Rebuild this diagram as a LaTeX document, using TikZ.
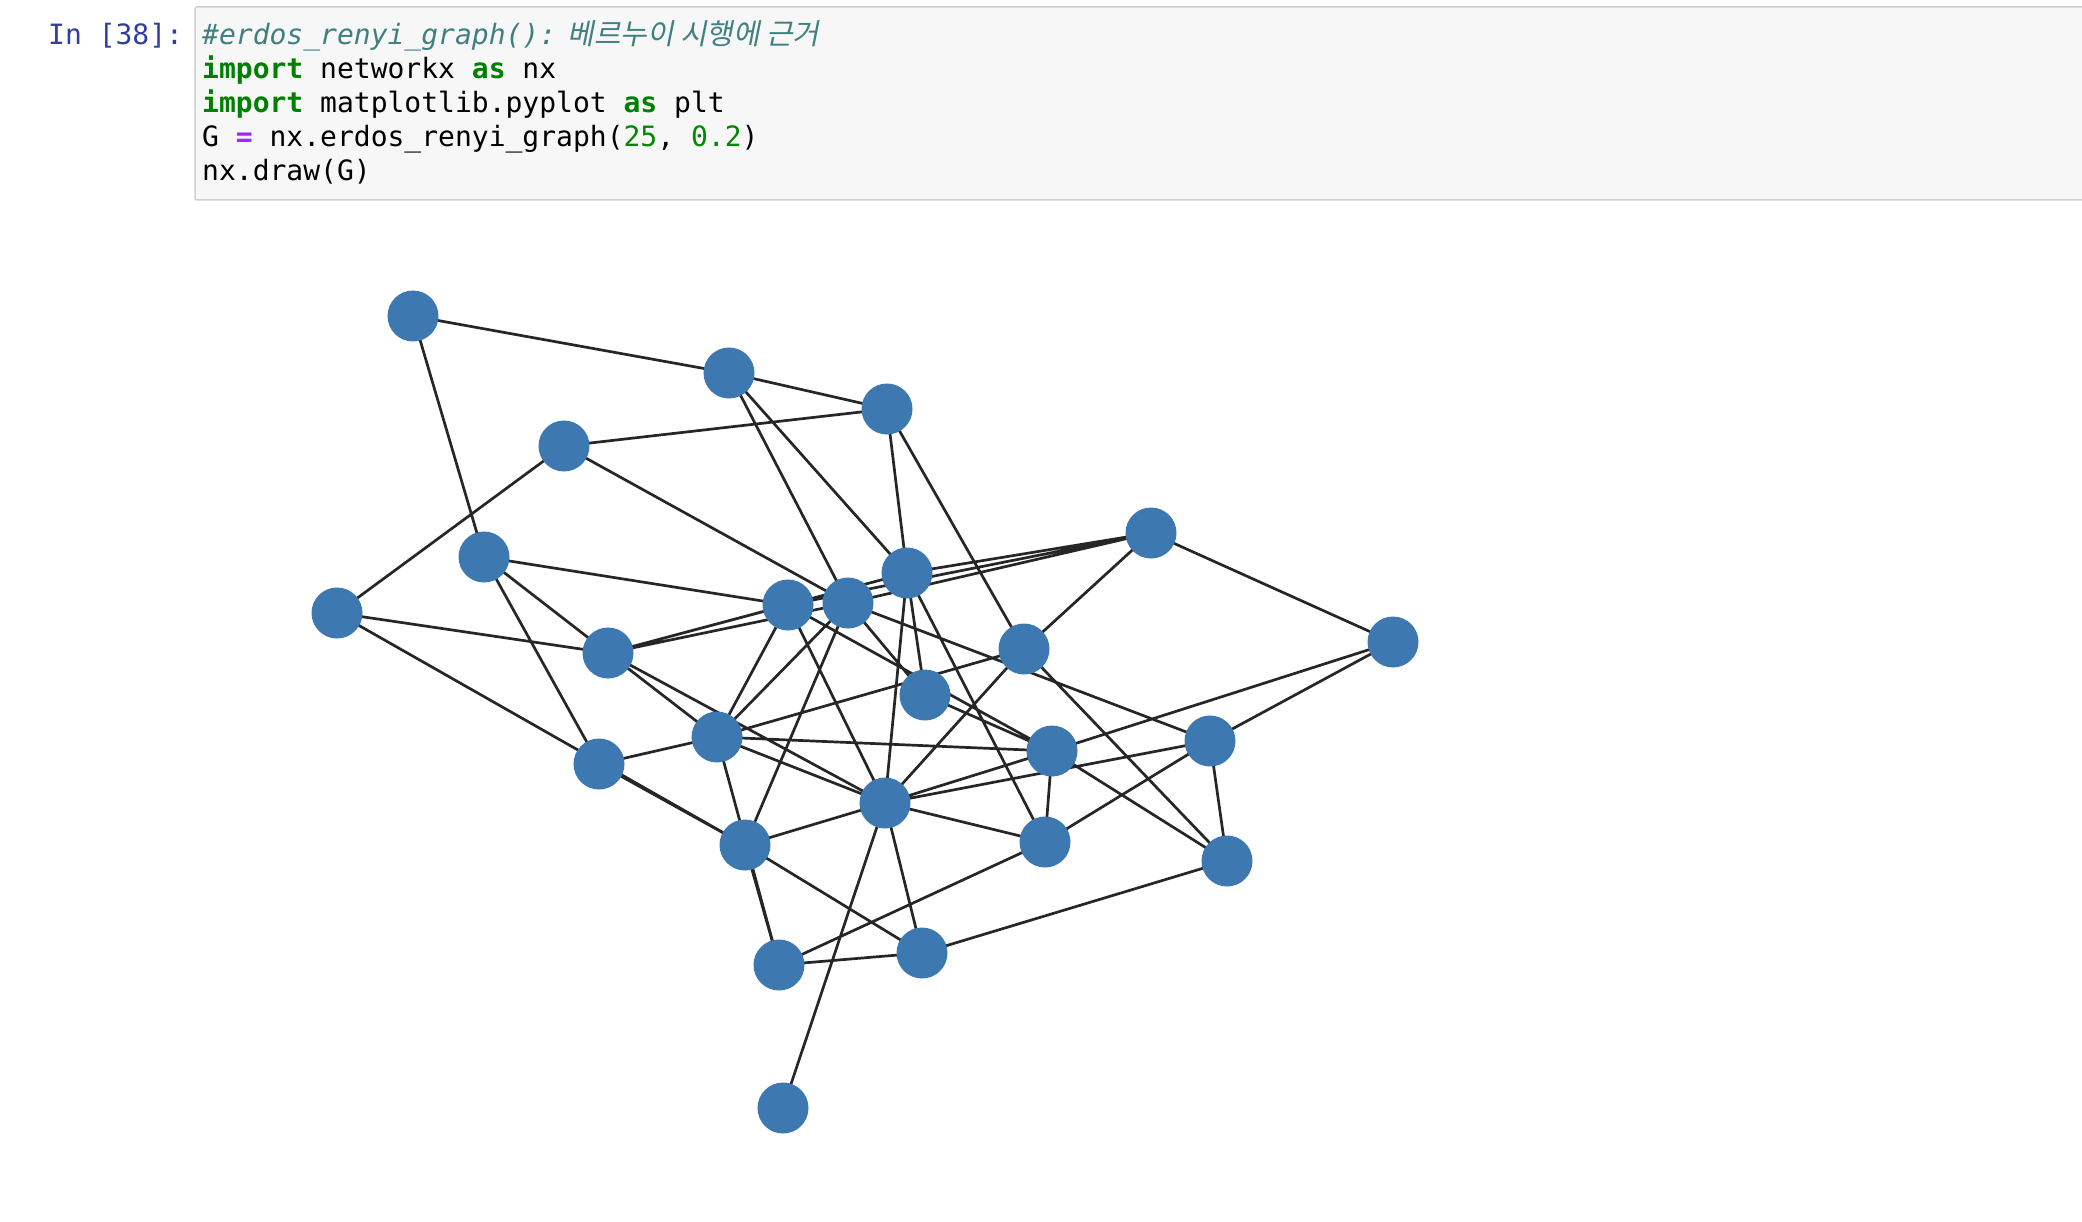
\documentclass[tikz,border=0pt]{standalone}
\usepackage{fontspec}
\newfontfamily\codefont{DejaVu Sans Mono}[ItalicFont={DejaVu Sans Mono Oblique},BoldFont={DejaVu Sans Mono Bold}]
\newfontfamily\krfont{Noto Sans CJK KR}[FakeSlant=0.2,Scale=1.03]
\definecolor{promptblue}{HTML}{303F9F}
\definecolor{commentc}{HTML}{408080}
\definecolor{kwgreen}{HTML}{008000}
\definecolor{numgreen}{HTML}{008800}
\definecolor{oppurple}{HTML}{AA22FF}
\definecolor{cellbg}{HTML}{F7F7F7}
\definecolor{cellborder}{HTML}{CFCFCF}
\definecolor{nodeblue}{RGB}{61,120,177}
\pgfdeclarelayer{bg}
\pgfsetlayers{bg,main}
\tikzset{
  gnode/.style={circle, fill=nodeblue, minimum size=51pt, inner sep=0pt},
  gedge/.style={draw=black!85, line width=2.7pt},
  codeline/.style={anchor=base west, inner sep=0pt, font=\codefont\fontsize{28}{34}\selectfont},
}
\begin{document}
\begin{tikzpicture}[x=1pt,y=-1pt]
\useasboundingbox (0,0) rectangle (2082,1222);
\clip (0,0) rectangle (2082,1222);
% code cell
\draw[fill=cellbg, draw=cellborder, line width=1.5pt, rounded corners=2pt] (195,7) rectangle (2110,200);
\node[codeline, text=promptblue] (prompt) at (48,45) {In [38]:};
\node[codeline, text=commentc] (l1) at (202,45) {\itshape \#erdos\_renyi\_graph():\hspace{11.5pt}{\krfont 베르누이 시행에 근거}};
\node[codeline] (l2) at (202,79) {\textcolor{kwgreen}{\bfseries import} networkx \textcolor{kwgreen}{\bfseries as} nx};
\node[codeline] (l3) at (202,113) {\textcolor{kwgreen}{\bfseries import} matplotlib.pyplot \textcolor{kwgreen}{\bfseries as} plt};
\node[codeline] (l4) at (202,147) {G \textcolor{oppurple}{\bfseries =} nx.erdos\_renyi\_graph(\textcolor{numgreen}{25}, \textcolor{numgreen}{0.2})};
\node[codeline] (l5) at (202,181) {nx.draw(G)};
% graph nodes
\node[gnode] (A) at (413,316) {};
\node[gnode] (B) at (729,373) {};
\node[gnode] (C) at (887,409) {};
\node[gnode] (D) at (564,446) {};
\node[gnode] (E) at (1151,533) {};
\node[gnode] (F) at (484,557) {};
\node[gnode] (G) at (337,613) {};
\node[gnode] (H) at (907,573) {};
\node[gnode] (I) at (788,605) {};
\node[gnode] (J) at (848,603) {};
\node[gnode] (K) at (1393,642) {};
\node[gnode] (L) at (608,653) {};
\node[gnode] (M) at (1024,649) {};
\node[gnode] (N) at (925,695) {};
\node[gnode] (O) at (717,737) {};
\node[gnode] (P) at (599,764) {};
\node[gnode] (Q) at (1052,751) {};
\node[gnode] (R) at (1210,741) {};
\node[gnode] (S) at (885,803) {};
\node[gnode] (T) at (745,845) {};
\node[gnode] (U) at (1045,842) {};
\node[gnode] (V) at (1227,861) {};
\node[gnode] (W) at (779,965) {};
\node[gnode] (X) at (922,953) {};
\node[gnode] (Y) at (783,1108) {};
\begin{pgfonlayer}{bg}
\path[gedge] (A.center) -- (B.center) (A.center) -- (F.center)
  (B.center) -- (C.center) (B.center) -- (J.center) (B.center) -- (H.center)
  (C.center) -- (D.center) (C.center) -- (H.center) (C.center) -- (M.center)
  (D.center) -- (G.center) (D.center) -- (J.center)
  (E.center) -- (H.center) (E.center) -- (I.center) (E.center) -- (J.center)
  (E.center) -- (M.center) (E.center) -- (K.center)
  (K.center) -- (Q.center) (K.center) -- (R.center)
  (F.center) -- (I.center) (F.center) -- (L.center) (F.center) -- (P.center)
  (G.center) -- (L.center) (G.center) -- (T.center)
  (P.center) -- (T.center) (P.center) -- (O.center)
  (L.center) -- (I.center) (L.center) -- (J.center) (L.center) -- (H.center)
  (L.center) -- (O.center) (L.center) -- (S.center)
  (O.center) -- (I.center) (O.center) -- (J.center) (O.center) -- (M.center)
  (O.center) -- (Q.center) (O.center) -- (S.center) (O.center) -- (W.center)
  (T.center) -- (W.center) (T.center) -- (J.center) (T.center) -- (S.center)
  (T.center) -- (X.center)
  (I.center) -- (S.center) (I.center) -- (Q.center)
  (J.center) -- (N.center) (J.center) -- (R.center)
  (H.center) -- (N.center) (H.center) -- (S.center) (H.center) -- (U.center)
  (N.center) -- (Q.center)
  (M.center) -- (S.center) (M.center) -- (V.center)
  (Q.center) -- (S.center) (Q.center) -- (U.center) (Q.center) -- (V.center)
  (S.center) -- (R.center) (S.center) -- (U.center) (S.center) -- (Y.center)
  (S.center) -- (X.center)
  (U.center) -- (R.center) (U.center) -- (W.center)
  (R.center) -- (V.center) (V.center) -- (X.center) (W.center) -- (X.center);
\end{pgfonlayer}
\end{tikzpicture}
\end{document}
